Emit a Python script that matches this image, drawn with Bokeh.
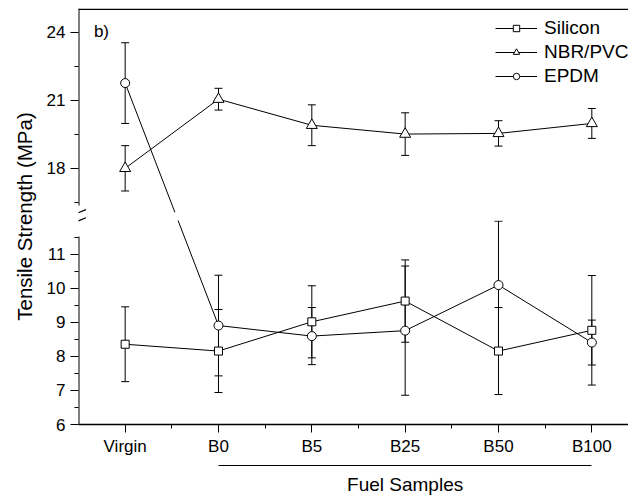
from bokeh.plotting import figure
from bokeh.models import (ColumnDataSource, Whisker, TeeHead, FixedTicker, CustomJSTickFormatter,
                          LinearAxis, Label, Arrow, BoxAnnotation, Legend, LegendItem, Range1d)
from bokeh.embed import file_html
from bokeh.resources import INLINE

# ---------------- data ----------------
categories = ["Virgin", "B0", "B5", "B25", "B50", "B100"]
silicon = [8.36, 8.16, 9.02, 9.63, 8.16, 8.77]
silicon_err = [1.10, 1.22, 1.06, 1.21, 1.28, 1.61]
nbr_pvc = [18.00, 21.05, 19.90, 19.51, 19.54, 19.98]
nbr_pvc_err = [1.00, 0.48, 0.90, 0.94, 0.56, 0.66]
epdm = [21.76, 8.91, 8.60, 8.76, 10.10, 8.41]
epdm_err = [1.78, 1.48, 0.84, 1.90, 1.88, 0.66]
lower_ticks = [6, 7, 8, 9, 10, 11]
lower_minor = [6.5, 7.5, 8.5, 9.5, 10.5, 11.5]
upper_ticks = [18, 21, 24]
upper_minor = [16.5, 19.5, 22.5]
fuel_group = ["B0", "B5", "B25", "B50", "B100"]
fuel_label = "Fuel Samples"

# ---------------- broken-axis scale ----------------
LOW_TOP = 11.53      # top of the lower segment
UP_BOTTOM = 16.36    # bottom of the upper segment
UP_START = 12.44     # display position where the upper segment starts
UP_SCALE = 2.0 / 3.0
SPLIT = 14.0


def brk(v):
    return v if v < SPLIT else UP_START + (v - UP_BOTTOM) * UP_SCALE


Y_TOP = 25.05
X_START, X_END = -0.5, 5.393
FONT = "Liberation Sans"

xs = list(range(len(categories)))


def make_src(vals, errs):
    return ColumnDataSource(dict(
        x=xs,
        y=[brk(v) for v in vals],
        lo=[brk(v - e) for v, e in zip(vals, errs)],
        hi=[brk(v + e) for v, e in zip(vals, errs)],
    ))


p = figure(width=628, height=499, output_backend="svg", toolbar_location=None,
           x_range=Range1d(X_START, X_END), y_range=Range1d(6, brk(Y_TOP)),
           min_border_left=78, min_border_right=0, min_border_top=8, min_border_bottom=75,
           background_fill_color="white", border_fill_color="white")
p.outline_line_color = None
p.xgrid.visible = False
p.ygrid.visible = False

series = [
    ("Silicon", silicon, silicon_err, "square", 8),
    ("NBR/PVC", nbr_pvc, nbr_pvc_err, "triangle", 11),
    ("EPDM", epdm, epdm_err, "circle", 9),
]

items = []
for name, vals, errs, marker, size in series:
    src = make_src(vals, errs)
    w = Whisker(base="x", upper="hi", lower="lo", source=src, line_color="black", line_width=1,
                upper_head=TeeHead(size=8, line_color="black", line_width=1),
                lower_head=TeeHead(size=8, line_color="black", line_width=1), level="underlay")
    p.add_layout(w)
    ln = p.line("x", "y", source=src, line_color="black", line_width=1)
    sc = p.scatter("x", "y", source=src, marker=marker, size=size,
                   fill_color="white", line_color="black", line_width=1)
    items.append(LegendItem(label=name, renderers=[ln, sc]))

# gap in the data lines at the axis break
p.add_layout(BoxAnnotation(bottom=12.0, top=12.24, fill_color="white", fill_alpha=1,
                           line_color=None, level="annotation"))

# ---------------- axes ----------------
xa = p.xaxis[0]
xa.ticker = FixedTicker(ticks=xs, minor_ticks=[x + 0.5 for x in xs])
xa.major_label_overrides = {i: c for i, c in enumerate(categories)}
ya = p.yaxis[0]
tick_vals = lower_ticks + upper_ticks
ya.ticker = FixedTicker(ticks=[brk(t) for t in tick_vals],
                        minor_ticks=[brk(t) for t in lower_minor + upper_minor])
ya.formatter = CustomJSTickFormatter(
    args=dict(pos=[brk(t) for t in tick_vals], lab=[str(t) for t in tick_vals]),
    code="""
let best = 0;
for (let i = 0; i < pos.length; i++) {
  if (Math.abs(pos[i] - tick) < Math.abs(pos[best] - tick)) best = i;
}
return lab[best];
""")
ya.axis_label = "Tensile Strength (MPa)"
ya.axis_line_color = None

for ax in (xa, ya):
    ax.major_tick_in = 0
    ax.major_tick_out = 8
    ax.minor_tick_in = 0
    ax.minor_tick_out = 4
    ax.major_tick_line_color = "black"
    ax.minor_tick_line_color = "black"
    ax.major_label_text_font = FONT
    ax.major_label_text_font_size = "17px"
    ax.major_label_text_color = "black"
    ax.axis_label_text_font = FONT
    ax.axis_label_text_font_size = "20.5px"
    ax.axis_label_text_font_style = "normal"
    ax.axis_label_text_color = "black"
xa.major_label_standoff = 4
ya.major_label_standoff = 5
ya.axis_label_standoff = 8
xa.axis_line_color = "black"
xa.axis_line_width = 1.5

# frame top line (thin band at the top edge of the frame)
p.add_layout(BoxAnnotation(bottom=brk(Y_TOP) - 0.045, fill_color="black", fill_alpha=1,
                           line_color=None, level="annotation"))

# spacer, then the "Fuel Samples" group line with its label below the category axis
g0 = categories.index(fuel_group[0])
g1 = categories.index(fuel_group[-1])
gmid = (g0 + g1) // 2
spacer = LinearAxis(ticker=FixedTicker(ticks=[gmid]), major_tick_out=7, major_tick_in=0,
                    major_tick_line_color=None, minor_tick_out=0, minor_tick_in=0,
                    minor_tick_line_color=None, major_label_overrides={gmid: ""},
                    major_label_text_font_size="0px", major_label_standoff=0,
                    axis_line_color=None)
p.add_layout(spacer, "below")
fuel = LinearAxis(ticker=FixedTicker(ticks=[gmid]), bounds=(g0, g1), major_tick_out=0,
                  major_tick_in=0, minor_tick_out=0, minor_tick_in=0,
                  major_tick_line_color=None, minor_tick_line_color=None,
                  major_label_overrides={gmid: fuel_label}, major_label_standoff=8,
                  major_label_text_font=FONT, major_label_text_font_size="19px",
                  major_label_text_color="black",
                  axis_line_color="black", axis_line_width=1)
p.add_layout(fuel, "below")

# left axis line with a gap, and the break marks
p.add_layout(Arrow(x_start=X_START, x_end=X_START, y_start=6, y_end=LOW_TOP, end=None,
                   line_color="black", line_width=2))
p.add_layout(Arrow(x_start=X_START, x_end=X_START, y_start=UP_START, y_end=brk(Y_TOP), end=None,
                   line_color="black", line_width=2))
dx = 0.08
for yc in (12.23, 11.99):
    p.add_layout(Arrow(x_start=X_START - dx, x_end=X_START + dx, y_start=yc - 0.088,
                       y_end=yc + 0.088, end=None, line_color="black", line_width=1.2))

# panel tag
p.add_layout(Label(x=-0.335, y=17.56, text="b)", text_font=FONT, text_font_size="17px",
                   text_baseline="middle", text_color="black"))

legend = Legend(items=items, location=(417, 337), glyph_width=42, glyph_height=16,
                label_height=20, label_standoff=7, spacing=2, padding=0, margin=0,
                border_line_color=None, background_fill_alpha=0,
                label_text_font=FONT, label_text_font_size="19px", label_text_color="black")
p.add_layout(legend)

open("out.html", "w").write(file_html(p, INLINE))
